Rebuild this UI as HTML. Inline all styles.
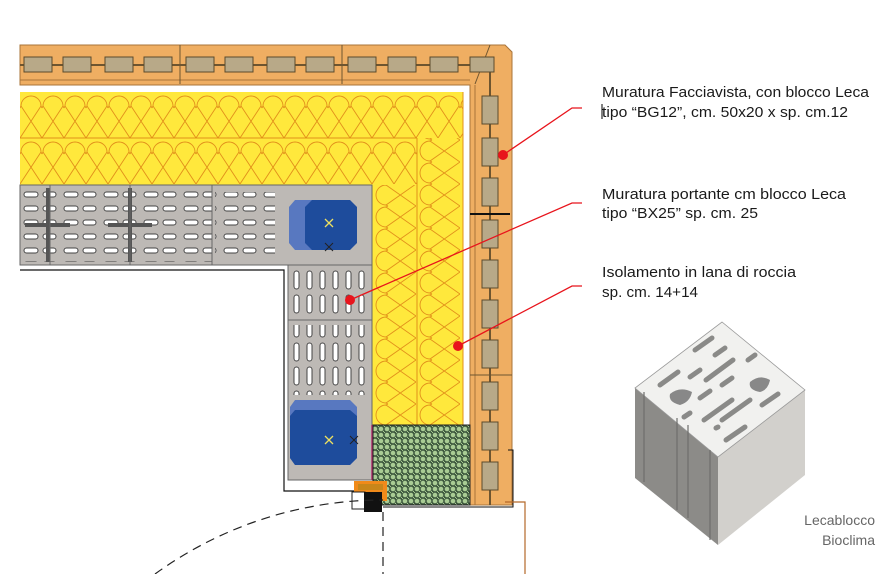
<!DOCTYPE html>
<html><head><meta charset="utf-8"><style>
html,body{margin:0;padding:0;background:#fff;width:889px;height:574px;overflow:hidden}
svg{display:block}
text{font-family:"Liberation Sans",sans-serif}
</style></head><body>
<svg width="889" height="574" viewBox="0 0 889 574" xmlns="http://www.w3.org/2000/svg">
<defs>
<pattern id="insH" x="20" y="92" width="22" height="46" patternUnits="userSpaceOnUse">
<rect width="22" height="46" fill="#FFE83C"/>
<path d="M1 14 A10 10 0 1 1 21 14 L0 46 M21 14 L22 16 M1 14 L0 16 M1 14 L22 46" fill="none" stroke="#E2901A" stroke-width="0.9"/>
</pattern>
<pattern id="insV" x="372" y="140" width="44" height="22" patternUnits="userSpaceOnUse">
<rect width="44" height="22" fill="#FFE83C"/>
<path d="M14 1 A10 10 0 1 0 14 21 L44 0 M14 21 L16 22 M14 1 L16 0 M14 1 L44 22" fill="none" stroke="#E2901A" stroke-width="0.9"/>
</pattern>
<pattern id="hex" width="6" height="6" patternUnits="userSpaceOnUse">
<rect width="6" height="6" fill="#3f5a3f"/>
<circle cx="3" cy="3" r="2.3" fill="#A9CC94"/>
<circle cx="0" cy="0" r="1.2" fill="#A9CC94"/><circle cx="6" cy="6" r="1.2" fill="#A9CC94"/>
</pattern>
<pattern id="slots" x="20" y="188" width="40" height="14" patternUnits="userSpaceOnUse">
<rect x="4" y="4" width="14" height="5" rx="2.5" fill="#fff" stroke="#444" stroke-width="1"/>
<rect x="23" y="4" width="13" height="5" rx="2.5" fill="#fff" stroke="#444" stroke-width="1"/>
</pattern>
<pattern id="vslots" x="290" y="268" width="13" height="24" patternUnits="userSpaceOnUse">
<rect x="4" y="3" width="5" height="18" rx="2.5" fill="#fff" stroke="#444" stroke-width="1"/>
</pattern>
</defs>

<path d="M20 45 L505 45 L512 52 L512 505 L470 505 L470 85 L20 85 Z" fill="#EFAE62" stroke="#A8743A" stroke-width="1"/>
<line x1="20" y1="65" x2="490" y2="65" stroke="#6E5530" stroke-width="2"/>
<line x1="490" y1="65" x2="490" y2="505" stroke="#6E5530" stroke-width="2"/>
<line x1="20" y1="80" x2="470" y2="80" stroke="#A8743A" stroke-width="1"/>
<line x1="475" y1="85" x2="475" y2="505" stroke="#A8743A" stroke-width="1"/>
<line x1="180" y1="45" x2="180" y2="84" stroke="#6E5530"/>
<line x1="342" y1="45" x2="342" y2="84" stroke="#6E5530"/>
<line x1="470" y1="214" x2="510" y2="214" stroke="#111" stroke-width="2"/>
<line x1="470" y1="375" x2="512" y2="375" stroke="#6E5530"/>
<line x1="490" y1="45" x2="475" y2="84" stroke="#6E5530"/>
<g fill="#B8A988" stroke="#5b4a2c" stroke-width="1">
<rect x="24" y="57" width="28" height="15"/><rect x="63" y="57" width="28" height="15"/><rect x="105" y="57" width="28" height="15"/><rect x="144" y="57" width="28" height="15"/>
<rect x="186" y="57" width="28" height="15"/><rect x="225" y="57" width="28" height="15"/><rect x="267" y="57" width="28" height="15"/><rect x="306" y="57" width="28" height="15"/>
<rect x="348" y="57" width="28" height="15"/><rect x="388" y="57" width="28" height="15"/><rect x="430" y="57" width="28" height="15"/><rect x="470" y="57" width="24" height="15"/>
<rect x="482" y="96" width="16" height="28"/><rect x="482" y="138" width="16" height="28"/><rect x="482" y="178" width="16" height="28"/>
<rect x="482" y="220" width="16" height="28"/><rect x="482" y="260" width="16" height="28"/><rect x="482" y="300" width="16" height="28"/>
<rect x="482" y="340" width="16" height="28"/><rect x="482" y="382" width="16" height="28"/><rect x="482" y="422" width="16" height="28"/><rect x="482" y="462" width="16" height="28"/>
</g>
<path d="M508 450 L513 450 L513 507 L383 507" fill="none" stroke="#111" stroke-width="1"/>
<path d="M505 502 L525 502 L525 574" fill="none" stroke="#B5692A" stroke-width="1.2"/>

<rect x="20" y="92" width="443" height="46" fill="url(#insH)"/>
<rect x="20" y="138" width="397" height="47" fill="url(#insH)"/>
<rect x="417" y="138" width="46" height="287" fill="url(#insV)"/>
<rect x="372" y="185" width="45" height="240" fill="url(#insV)"/>
<line x1="20" y1="138" x2="417" y2="138" stroke="#E2901A"/>
<line x1="417" y1="138" x2="417" y2="425" stroke="#E2901A"/>
<line x1="463" y1="92" x2="463" y2="425" stroke="#E2901A"/>

<rect x="20" y="185" width="352" height="80" fill="#BDB9B5" stroke="#666" stroke-width="1"/>
<rect x="288" y="265" width="84" height="215" fill="#BDB9B5" stroke="#666" stroke-width="1"/>
<rect x="20" y="188" width="192" height="74" fill="url(#slots)"/>
<rect x="215" y="192" width="60" height="68" fill="url(#slots)"/>
<rect x="290" y="268" width="78" height="48" fill="url(#vslots)"/>
<rect x="290" y="325" width="78" height="70" fill="url(#vslots)"/>
<g stroke="#555" stroke-width="4"><line x1="48" y1="188" x2="48" y2="262"/><line x1="130" y1="188" x2="130" y2="262"/><line x1="25" y1="225" x2="70" y2="225"/><line x1="108" y1="225" x2="152" y2="225"/></g>
<g stroke="#666" stroke-width="1"><line x1="50" y1="185" x2="50" y2="265"/><line x1="130" y1="185" x2="130" y2="265"/><line x1="212" y1="185" x2="212" y2="265"/><line x1="288" y1="320" x2="372" y2="320"/></g>
<line x1="372" y1="425" x2="372" y2="480" stroke="#b0306a" stroke-width="1.5"/>
<path d="M295 200 L315 200 L315 250 L295 250 L289 243 L289 207 Z" fill="#5878C0"/>
<path d="M312 200 L350 200 L357 207 L357 243 L350 250 L312 250 L305 243 L305 207 Z" fill="#1E4C9C"/>
<path d="M295 400 L350 400 L357 407 L357 458 L350 465 L295 465 L290 458 L290 407 Z" fill="#5878C0"/>
<path d="M295 410 L350 410 L357 416 L357 458 L350 465 L295 465 L290 458 L290 416 Z" fill="#1E4C9C"/>
<g stroke="#EEE060" stroke-width="1.3"><path d="M325 219 l8 8 m0 -8 l-8 8"/><path d="M325 436 l8 8 m0 -8 l-8 8"/></g>
<g stroke="#222" stroke-width="1"><path d="M325 243 l8 8 m0 -8 l-8 8"/><path d="M350 436 l8 8 m0 -8 l-8 8"/></g>

<path d="M20 270 L284 270 L284 491 L355 491" fill="none" stroke="#111" stroke-width="1.2"/>
<rect x="373" y="425" width="97" height="80" fill="url(#hex)" stroke="#222" stroke-width="1"/>
<rect x="354" y="481" width="33" height="20" fill="#F08A1A"/>
<rect x="358" y="484" width="25" height="6" fill="#C8861A"/>
<rect x="352" y="492" width="13" height="17" fill="#fff" stroke="#222"/>
<rect x="364" y="492" width="18" height="20" fill="#111"/>
<path d="M155 574 A388 388 0 0 1 383 500" fill="none" stroke="#222" stroke-width="1.2" stroke-dasharray="9 6"/>
<line x1="383" y1="512" x2="383" y2="574" stroke="#222" stroke-width="1.2" stroke-dasharray="9 6"/>

<g stroke="#E8141C" stroke-width="1.3" fill="none">
<polyline points="503,155 572,108 582,108"/>
<polyline points="350,300 572,203 582,203"/>
<polyline points="458,346 572,286 582,286"/>
</g>
<g fill="#E8141C"><circle cx="503" cy="155" r="5"/><circle cx="350" cy="300" r="5"/><circle cx="458" cy="346" r="5"/></g>

<g fill="#1a1a1a" font-size="14.5">
<text x="602" y="97" textLength="267" lengthAdjust="spacingAndGlyphs">Muratura Facciavista, con blocco Leca</text>
<text x="602" y="117" textLength="246" lengthAdjust="spacingAndGlyphs">tipo “BG12”, cm. 50x20 x sp. cm.12</text>
<text x="602" y="199" textLength="244" lengthAdjust="spacingAndGlyphs">Muratura portante cm blocco Leca</text>
<text x="602" y="218" textLength="156" lengthAdjust="spacingAndGlyphs">tipo “BX25” sp. cm. 25</text>
<text x="602" y="277" textLength="194" lengthAdjust="spacingAndGlyphs">Isolamento in lana di roccia</text>
<text x="602" y="297" textLength="96" lengthAdjust="spacingAndGlyphs">sp. cm. 14+14</text>
</g>
<line x1="602" y1="104" x2="602" y2="119" stroke="#000"/>

<path d="M635 388 L635 478 L718 545 L718 457 Z" fill="#8C8B88"/>
<path d="M718 457 L805 390 L805 475 L718 545 Z" fill="#D2D0CC"/>
<path d="M635 388 L722 322 L805 390 L718 457 Z" fill="#F1F1EF" stroke="#999" stroke-width="0.8"/>
<g stroke="#6e6e6c" stroke-width="1.2"><line x1="644" y1="392" x2="644" y2="482"/><line x1="677" y1="418" x2="677" y2="510"/><line x1="688" y1="425" x2="688" y2="518"/><line x1="710" y1="450" x2="710" y2="540"/></g>
<g stroke="#8a8a88" stroke-width="5" stroke-linecap="round">
<line x1="695" y1="350" x2="712" y2="338"/><line x1="715" y1="355" x2="725" y2="348"/>
<line x1="660" y1="385" x2="678" y2="372"/><line x1="690" y1="377" x2="700" y2="370"/><line x1="706" y1="380" x2="733" y2="360"/><line x1="748" y1="360" x2="755" y2="355"/>
<line x1="722" y1="385" x2="732" y2="378"/><line x1="700" y1="398" x2="710" y2="391"/><line x1="704" y1="420" x2="732" y2="400"/><line x1="722" y1="420" x2="750" y2="400"/><line x1="762" y1="405" x2="778" y2="394"/>
<line x1="684" y1="417" x2="690" y2="413"/><line x1="726" y1="440" x2="745" y2="427"/><line x1="716" y1="428" x2="718" y2="427"/>
</g>
<path d="M670 394 Q680 386 692 392 Q690 402 680 405 Q668 402 670 394 Z" fill="#888"/>
<path d="M750 382 Q760 374 770 380 Q768 390 760 392 Q748 390 750 382 Z" fill="#888"/>
<g fill="#666" font-size="14" text-anchor="end"><text x="875" y="525">Lecablocco</text><text x="875" y="545">Bioclima</text></g>
</svg>
</body></html>
